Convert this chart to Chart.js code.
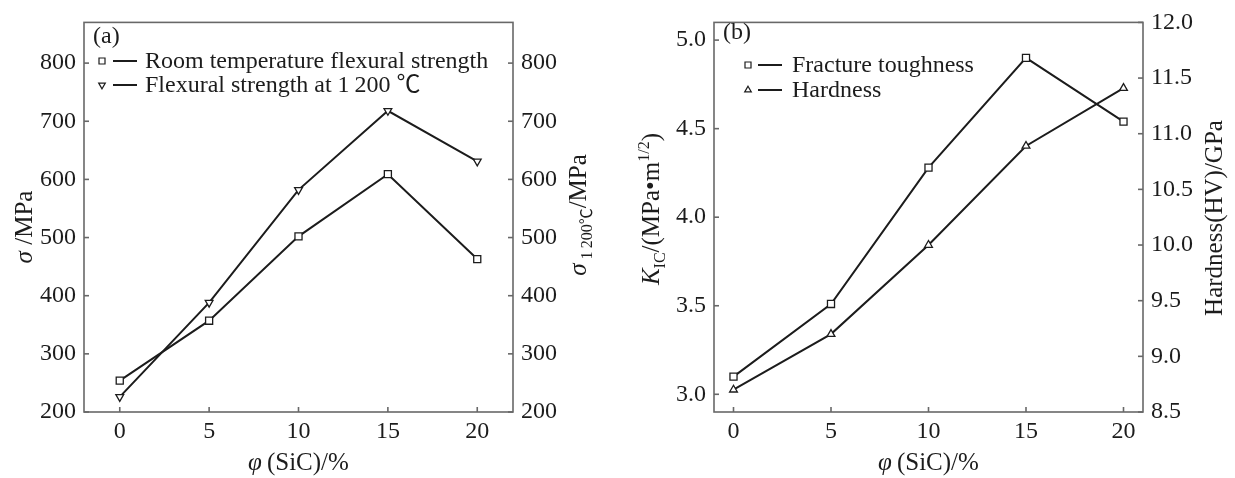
<!DOCTYPE html>
<html lang="en">
<head>
<meta charset="UTF-8">
<title>SiC content vs. strength, toughness and hardness</title>
<style>
    body { margin: 0; background: #fff; }
    #wrap { position: relative; width: 1235px; height: 478px; }
    .panel { position: absolute; top: 0; height: 478px; }
    #panelA { left: 0; width: 615px; }
    #panelB { left: 615px; width: 620px; }
</style>
</head>
<body>
<div id="wrap">
    <div class="panel" id="panelA"><canvas id="chartA"></canvas></div>
    <div class="panel" id="panelB"><canvas id="chartB"></canvas></div>
</div>

<script src="https://cdn.jsdelivr.net/npm/chart.js"></script>
<script>
    // values
    const sicContent = [0, 5, 10, 15, 20];
    const roomTempStrength = [254, 357, 502, 609, 463];
    const strength1200 = [226, 388, 582, 718, 631];
    const fractureToughness = [3.10, 3.51, 4.28, 4.90, 4.54];
    const hardness = [8.70, 9.20, 10.00, 10.89, 11.41];

    const xTicks = [0, 5, 10, 15, 20];
    const strengthTicks = [200, 300, 400, 500, 600, 700, 800];
    const toughnessTicks = [3.0, 3.5, 4.0, 4.5, 5.0];
    const hardnessTicks = [8.5, 9.0, 9.5, 10.0, 10.5, 11.0, 11.5, 12.0];

    const ink = '#1c1c1c';
    const frameGrey = '#686868';
    const serif = "'Liberation Serif', 'Times New Roman', 'Noto Sans CJK SC', serif";

    Chart.defaults.font.family = serif;
    Chart.defaults.color = ink;

    function points(ys) {
        return sicContent.map((x, i) => ({ x: x, y: ys[i] }));
    }

    // helpers for scale callbacks
    function fixedTicks(values) {
        return scale => { scale.ticks = values.map(v => ({ value: v })); };
    }

    function xScale(min, max) {
        return {
            type: 'linear', position: 'bottom', min: min, max: max,
            afterBuildTicks: fixedTicks(xTicks),
            afterFit: s => { s.height = 66; },
            grid: { display: false, drawTicks: false },
            border: { display: false },
            ticks: { padding: 5, color: ink, font: { size: 24 } }
        };
    }

    function yScale(pos, min, max, values, width, digits) {
        return {
            type: 'linear', position: pos, min: min, max: max,
            afterBuildTicks: fixedTicks(values),
            afterFit: s => { s.width = width; },
            grid: { display: false, drawTicks: false },
            border: { display: false },
            ticks: {
                padding: 8, color: ink, font: { size: 24 },
                callback: v => v.toFixed(digits)
            }
        };
    }

    function lineSet(label, ys, axis, style, rotation, radius) {
        return {
            label: label, data: points(ys), yAxisID: axis,
            borderColor: ink, borderWidth: 2, tension: 0,
            pointStyle: style, pointRotation: rotation, pointRadius: radius,
            pointBackgroundColor: '#fff', pointBorderColor: ink, pointBorderWidth: 1.3
        };
    }

    // text with italic / sub / sup pieces, centred on (x, y)
    function drawRich(ctx, x, y, angle, parts) {
        ctx.save();
        ctx.translate(x, y);
        ctx.rotate(angle * Math.PI / 180);
        let total = 0;
        parts.forEach(p => {
            const size = p.sub || p.sup ? 16 : 25;
            p.font = (p.it ? 'italic ' : '') + size + 'px ' + serif;
            p.dy = p.sub ? 6 : (p.sup ? -10 : 0);
            ctx.font = p.font;
            p.w = ctx.measureText(p.t).width;
            total += p.w;
        });
        let cx = -total / 2;
        ctx.fillStyle = ink;
        ctx.textAlign = 'left';
        ctx.textBaseline = 'alphabetic';
        parts.forEach(p => {
            ctx.font = p.font;
            ctx.fillText(p.t, cx, 8 + p.dy);
            cx += p.w;
        });
        ctx.restore();
    }

    const figurePlugin = {
        id: 'figure',
        afterDraw(chart, args, opts) {
            const ctx = chart.ctx;
            const area = chart.chartArea;
            ctx.save();

            // frame
            ctx.strokeStyle = frameGrey;
            ctx.lineWidth = 1.6;
            ctx.strokeRect(area.left, area.top, area.right - area.left, area.bottom - area.top);

            // inward tick marks
            Object.values(chart.scales).forEach(scale => {
                scale.ticks.forEach((t, i) => {
                    const p = scale.getPixelForTick(i);
                    ctx.beginPath();
                    if (scale.axis === 'x') {
                        ctx.moveTo(p, area.bottom);
                        ctx.lineTo(p, area.bottom - 5);
                    } else if (scale.position === 'left') {
                        ctx.moveTo(area.left, p);
                        ctx.lineTo(area.left + 5, p);
                    } else {
                        ctx.moveTo(area.right, p);
                        ctx.lineTo(area.right - 5, p);
                    }
                    ctx.stroke();
                });
            });

            // panel tag
            ctx.fillStyle = ink;
            ctx.font = '24px ' + serif;
            ctx.textBaseline = 'middle';
            ctx.textAlign = 'left';
            ctx.fillText(opts.tag, opts.tagX, opts.tagY);

            // legend
            const lg = opts.legend;
            chart.data.datasets.forEach((ds, i) => {
                const y = lg.y + i * lg.gap;
                ctx.fillStyle = '#fff';
                ctx.strokeStyle = ink;
                ctx.lineWidth = 1.2;
                Chart.helpers.drawPoint(ctx, {
                    pointStyle: ds.pointStyle, rotation: ds.pointRotation,
                    radius: ds.pointRadius * 0.85, borderWidth: 1.2
                }, lg.markerX, y);
                ctx.beginPath();
                ctx.lineWidth = 2;
                ctx.moveTo(lg.lineFrom, y);
                ctx.lineTo(lg.lineTo, y);
                ctx.stroke();
                ctx.fillStyle = ink;
                ctx.font = '24px ' + serif;
                ctx.textBaseline = 'middle';
                ctx.fillText(ds.label, lg.textX, y + 1);
            });

            // axis titles
            opts.titles.forEach(tt => {
                const x = tt.x === 'center' ? (area.left + area.right) / 2 : tt.x;
                drawRich(ctx, x, tt.y, tt.rot || 0, tt.parts);
            });
            ctx.restore();
        }
    };

    new Chart(document.getElementById('chartA'), {
        type: 'line',
        data: {
            datasets: [
                lineSet('Room temperature flexural strength', roomTempStrength, 'y', 'rect', 0, 5),
                lineSet('Flexural strength at 1\u2009200 \u2103', strength1200, 'y2', 'triangle', 180, 4.5)
            ]
        },
        options: {
            responsive: true,
            maintainAspectRatio: false,
            animation: false,
            layout: { padding: { top: 15, left: 0, right: 0, bottom: 0 } },
            scales: {
                x: xScale(-2, 22),
                y: yScale('left', 200, 870, strengthTicks, 84, 0),
                y2: yScale('right', 200, 870, strengthTicks, 102, 0)
            },
            plugins: {
                legend: { display: false },
                tooltip: { enabled: false },
                figure: {
                    tag: '(a)', tagX: 93, tagY: 37,
                    legend: { y: 61, gap: 24, markerX: 102, lineFrom: 113, lineTo: 137, textX: 145 },
                    titles: [
                        { x: 24, y: 227, rot: -90, parts: [{ t: 'σ', it: true }, { t: ' /MPa' }] },
                        { x: 578, y: 215, rot: -90, parts: [{ t: 'σ', it: true }, { t: ' 1\u2009200\u2103', sub: true }, { t: '/MPa' }] },
                        { x: 'center', y: 462, parts: [{ t: 'φ', it: true }, { t: '\u2009(SiC)/%' }] }
                    ]
                }
            }
        },
        plugins: [figurePlugin]
    });

    new Chart(document.getElementById('chartB'), {
        type: 'line',
        data: {
            datasets: [
                lineSet('Fracture toughness', fractureToughness, 'y', 'rect', 0, 5),
                lineSet('Hardness', hardness, 'y2', 'triangle', 0, 4.5)
            ]
        },
        options: {
            responsive: true,
            maintainAspectRatio: false,
            animation: false,
            layout: { padding: { top: 15, left: 0, right: 0, bottom: 0 } },
            scales: {
                x: xScale(-1, 21),
                y: yScale('left', 2.9, 5.1, toughnessTicks, 99, 1),
                y2: yScale('right', 8.5, 12.0, hardnessTicks, 92, 1)
            },
            plugins: {
                legend: { display: false },
                tooltip: { enabled: false },
                figure: {
                    tag: '(b)', tagX: 108, tagY: 33,
                    legend: { y: 65, gap: 25, markerX: 133, lineFrom: 143, lineTo: 167, textX: 177 },
                    titles: [
                        { x: 36, y: 209, rot: -90, parts: [{ t: 'K', it: true }, { t: 'IC', sub: true }, { t: '/(MPa\u2022m' }, { t: '1/2', sup: true }, { t: ')' }] },
                        { x: 599, y: 218, rot: -90, parts: [{ t: 'Hardness(HV)/GPa' }] },
                        { x: 'center', y: 462, parts: [{ t: 'φ', it: true }, { t: '\u2009(SiC)/%' }] }
                    ]
                }
            }
        },
        plugins: [figurePlugin]
    });
</script>
</body>
</html>
